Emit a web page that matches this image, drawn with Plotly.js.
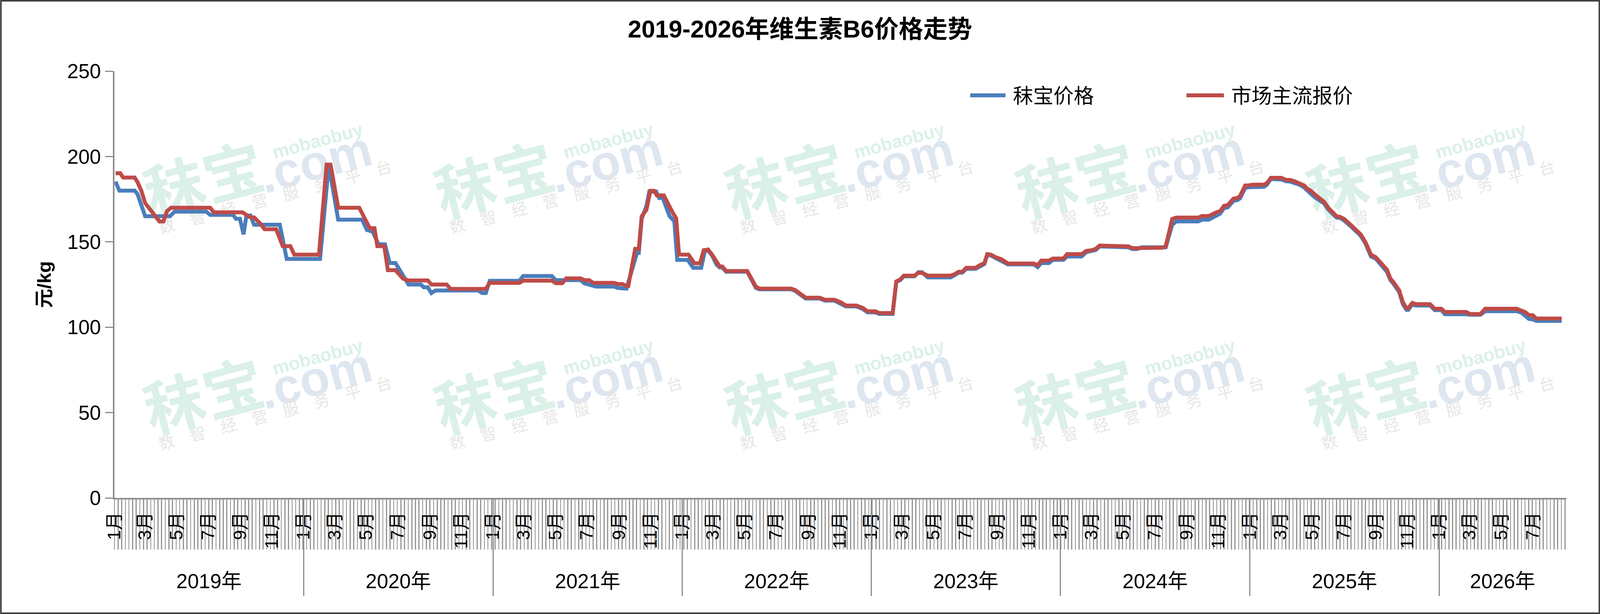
<!DOCTYPE html>
<html>
<head>
<meta charset="utf-8">
<script src="https://cdn.plot.ly/plotly-3.0.1.min.js"></script>
<style>
html,body{margin:0;padding:0;background:#fff;overflow:hidden;}
</style>
</head>
<body>
<div id="chart"></div>
<script>
// ---- data (x = weeks since 2019-01-01, y = 元/kg) ----
const seriesNames = ['秣宝价格', '市场主流报价'];
const bluePoints = [
[0.3,185.3],[1.35,180],[5.57,180],[6.36,178],[8.47,165],[15.3,165],[16.6,167.7],[25.3,167.7],[26.4,165.8],[32.7,165.8],[33.5,163.5],[34.6,163.5],[35.6,154.4],[36.4,165.4],[37.5,165.4],[38.5,160],[45.6,160],[47.5,140],[56.7,140],[59.1,195],[61.7,163],[68.3,163],[69.6,157],[71.2,156],[72.8,148.6],[74.6,148.6],[75.9,137.6],[77.5,137.6],[79.1,132],[81.1,125],[84.5,125],[85.3,123.4],[86.4,123.4],[87.4,120],[88.5,121.5],[100.3,121.5],[101.4,120],[102.4,120],[103.5,127.2],[111.7,127.2],[112.7,130],[120.6,130],[121.7,127.6],[128.5,127.6],[129.6,125.7],[131.2,125],[132.8,123.8],[137.8,123.8],[138.8,123],[141.2,122.6],[143.0,136],[144.1,143.6],[144.6,143.6],[145.4,163.5],[146.7,171],[147.5,179.5],[149.4,179.5],[150.2,175.7],[151.2,175.7],[153.1,165],[154.4,162],[155.2,139.4],[158.1,139.4],[159.6,134.8],[161.8,134.8],[162.8,144.4],
[163.7,145],[164.8,142],[166.1,136.5],[166.9,135],[167.6,135],[168.7,132.5],[174.5,132.5],[176.9,123],[177.9,122.2],[186.6,122.2],[187.7,121.3],[189.0,119],[190.6,116.8],[194.5,116.8],[195.9,115.6],[198.5,115.6],[200.3,114],[201.7,112.2],[204.6,112.2],[206.4,110.6],[207.7,108.7],[209.8,108.7],[210.9,107.8],[214.6,107.8],[215.6,126.5],[216.7,127.6],[217.7,129.8],[220.6,129.8],[221.7,132.2],[222.7,132.2],[224.3,129.2],[230.6,129.2],[231.7,130.5],[232.8,132],[233.8,132],[234.9,134.2],[237.5,134.2],[238.6,135.8],[239.9,137],[240.7,142.5],[241.7,142],[243.0,140.5],[244.6,139],
[246.4,136.8],[253.5,136.8],[254.6,135.2],[255.6,137.6],[257.7,137.6],[258.8,139.5],[261.7,139.5],[262.7,141.4],[266.7,141.4],[268.0,144],[269.6,144.5],[270.6,145.2],[271.7,147.3],[278.6,147.3],[279.6,146.8],[280.7,145.8],[282.0,145.8],[283.3,146.8],[289.9,146.8],[291.7,160],[292.8,162],[298.9,162],[299.9,163],[301.8,163],[303.9,165.8],[304.9,166.5],[306.0,169.8],[307.0,170.2],[308.6,174],[309.7,174.5],[310.4,175.5],[311.8,181.5],[312.8,182],[313.9,182.2],[317.0,182.2],[317.8,183.5],[318.9,186.8],[321.8,186.5],[323.1,185.5],[324.2,185.3],[325.5,184.5],[326.8,183.5],[328.1,181.8],
[329.0,179.8],[330.0,178],[331.1,176],[333.6,172.5],[334.7,169],[337.0,164.2],[338.0,164],[339.1,162.5],[341.1,158.8],[342.1,156.5],[343.7,153.5],[345.0,149],[346.5,141.5],[347.8,140.2],[350.1,134.2],[350.9,132.5],[351.9,127.5],[352.7,125.5],[354.3,120.5],[355.3,113.5],[356.3,110.2],[356.8,110.2],[357.9,113.2],[358.9,112.7],[362.8,112.7],[364.1,110],[365.9,110],[366.9,107.6],[372.8,107.6],[373.8,107.3],[376.7,107.3],[378.0,109.4],[386.7,109.4],[388.0,108.5],[389.0,106.7],[390.1,104.8],[391.1,104.6],[392.1,103.7],[399.1,103.7]
];
const redPoints = [
[0.3,190.2],[1.6,190.2],[2.4,187.7],[5.57,187.7],[6.36,185],[7.4,180],[8.47,172.7],[12.4,162],[13.5,162],[14.5,168],[15.6,170],[26.4,170],[27.4,167.3],[35.3,167.3],[37.5,164.3],[38.5,164.3],[40.1,161],[41.4,157.4],[44.6,157.4],[46.4,147.5],[48.5,147.5],[49.6,142.5],[56.4,142.5],[58.5,195.2],[59.6,195.2],[61.7,170],[67.5,170],[70.4,158],[71.7,158],[72.5,147.5],[74.4,147.5],[75.4,133.4],[77.5,133.4],[79.6,128.4],[81.1,127.4],[86.4,127.4],[87.4,125],[91.6,125],[92.7,122.4],[102.4,122.4],[103.5,126],[111.7,126],[112.7,127.3],[120.6,127.3],[121.7,125.8],[123.5,125.8],[124.6,128.6],[128.5,128.6],[129.6,127.6],[130.9,127.6],[132.0,126],[137.8,126],[138.8,125.3],[140.1,125.3],[141.2,124.1],[141.7,124.1],[143.6,145.9],[144.6,145.9],[145.4,165],[146.7,168.8],[147.8,179.9],[148.8,179.9],[149.6,177.2],[151.5,177.2],[153.9,167.3],[154.9,163.8],[155.7,142.5],[158.3,142.5],[159.9,137.5],[161.5,137.5],[162.5,145.1],
[163.7,145.5],[164.8,142.5],[166.1,137.5],[166.9,135.6],[167.6,135.6],[168.7,132.9],[174.5,132.9],[176.9,123.7],[177.9,122.6],[186.6,122.6],[187.7,121.8],[189.0,119.6],[190.6,117.3],[194.5,117.3],[195.9,116.1],[198.5,116.1],[200.3,114.6],[201.7,112.7],[204.6,112.7],[206.4,111.2],[207.7,109.3],[209.8,109.3],[210.9,108.3],[214.6,108.3],[215.6,126.8],[216.7,128],[217.7,130.2],[220.6,130.2],[221.7,131.8],[222.7,131.8],[224.3,130.2],[230.6,130.2],[231.7,131],[232.8,132.5],[233.8,132.5],[234.9,134.8],[237.5,134.8],[238.6,136.3],[239.9,137.5],[240.7,142.8],[241.7,142.5],[243.0,141],[244.6,139.8],
[246.4,137.3],[253.5,137.3],[254.6,136.3],[255.6,139],[257.7,139],[258.8,140.2],[261.7,140.2],[262.7,142.8],[266.7,142.8],[268.0,144.7],[269.6,145.1],[270.6,145.9],[271.7,147.8],[278.6,147.8],[279.6,147.3],[280.7,146.3],[282.0,146.3],[283.3,146.6],[289.1,146.6],[289.9,147.4],[291.7,163.4],[292.8,164.2],[298.9,164.2],[299.9,165.1],[301.8,165.1],[303.9,167.3],[304.9,168],[306.0,171.1],[307.0,171.5],[308.6,175.3],[309.7,175.7],[310.4,176.8],[311.8,183],[312.8,183.1],[313.9,183.5],[317.0,183.5],[317.8,184.4],[318.9,187.5],[321.8,187.5],[323.1,186.3],[324.2,186.3],[325.5,185.4],[326.8,184.4],[328.1,183],
[329.0,181],[330.0,179.8],[331.1,177.6],[333.6,173.4],[334.7,170],[337.0,165],[338.0,164.6],[339.1,163.4],[341.1,159.6],[342.1,157.3],[343.7,154.3],[345.0,149.7],[346.5,142.5],[347.8,141],[350.1,135.2],[350.9,133.7],[351.9,128.3],[352.7,126.4],[354.3,121.5],[355.3,114.6],[356.3,111.2],[356.8,111.2],[357.9,114.2],[358.9,113.5],[362.8,113.5],[364.1,110.8],[365.9,110.8],[366.9,108.9],[372.8,108.9],[373.8,107.7],[376.7,107.7],[378.0,110.8],[386.7,110.8],[388.0,110],[389.0,108.9],[390.1,107],[391.1,107],[392.1,105.1],[399.1,105.1]
];
const years = [2019, 2020, 2021, 2022, 2023, 2024, 2025, 2026];
const yearLabels = years.map(y => y + '年');
const labelMonths = [1, 3, 5, 7, 9, 11];
const monthLabel = m => m + '月';
const lastMonth2026 = 7;
const titleText = '2019-2026年维生素B6价格走势';
const yTitle = '元/kg';
const watermarkParts = ['秣宝', '.com', 'mobaobuy', '数　智　经　营　服　务　平　台'];

// ---- geometry (designed on a 4270x1571 canvas, fitted to the real viewport) ----
const W = window.innerWidth || 4270, H = window.innerHeight || 1571;
const sx = W / 4270, sy = H / 1571;
const fs = v => Math.round(v * Math.min(1, (sx + sy) / 2) * 10) / 10;
const div = document.getElementById('chart');
div.style.width = W + 'px'; div.style.height = H + 'px';
const L = 305 * sx, R = 90 * sx, T = 182 * sy, B = 46 * sy;
const PW = W - L - R, PH = H - T - B;
const xEnd = 400.4;
const px = X => (X * sx - L) / PW;          // design pixel -> paper x
const py = Y => 1 - (Y * sy - T) / PH;      // design pixel -> paper y
const DAY = 864e5, t0 = Date.UTC(2019, 0, 1);
const weekOf = (y, m) => (Date.UTC(y, m - 1, 1) - t0) / (7 * DAY);

const monthVals = [], monthText = [];
years.forEach(y => labelMonths.forEach(m => {
  if (y === 2026 && m > lastMonth2026) return;
  monthVals.push(weekOf(y, m)); monthText.push(monthLabel(m));
}));
const yearBounds = years.map(y => weekOf(y, 1)).concat([xEnd - 0.05]);
const yearMids = years.map((y, i) => (yearBounds[i] + yearBounds[i + 1]) / 2);

const BLUE = '#4a7ebb', RED = '#be4b48', GRAY = '#8c8c8c';
const FONT = 'Liberation Sans, Arial, "Noto Sans CJK SC", sans-serif';
const CJK = '"Noto Sans CJK SC", "Liberation Sans", sans-serif';

const traces = [
  {x: bluePoints.map(p => p[0]), y: bluePoints.map(p => p[1]), name: seriesNames[0],
   type: 'scatter', mode: 'lines', line: {color: BLUE, width: 10}, showlegend: false},
  {x: redPoints.map(p => p[0]), y: redPoints.map(p => p[1]), name: seriesNames[1],
   type: 'scatter', mode: 'lines', line: {color: RED, width: 10}, showlegend: false},
  {x: [], y: [], xaxis: 'x2', yaxis: 'y', showlegend: false, hoverinfo: 'skip'},
  {x: [], y: [], xaxis: 'x3', yaxis: 'y', showlegend: false, hoverinfo: 'skip'},
  {x: [], y: [], xaxis: 'x4', yaxis: 'y', showlegend: false, hoverinfo: 'skip'}
];

const shapes = [];
const annotations = [];

// watermark tiles (below traces)
for (let r = 0; r < 2; r++) {
  for (let c = 0; c < 5; c++) {
    const dx = 776 * c, dy = 553 * r;
    const parts = [
      {t: watermarkParts[0], X: 548, Y: 476, s: 158, col: '#daf0e8', w: 'bold', f: CJK},
      {t: watermarkParts[1], X: 838, Y: 404, s: 128, col: '#dee6f0', w: 'bold', f: FONT},
      {t: watermarkParts[2], X: 846, Y: 356, s: 48, col: '#dbf1e9', w: 'bold', f: FONT},
      {t: watermarkParts[3], X: 735, Y: 508, s: 42, col: '#e6e6e6', w: 'normal', f: CJK}
    ];
    parts.forEach(p => {
      const cx = px(p.X + dx), cy = py(p.Y + dy);
      shapes.push({type: 'rect', xref: 'paper', yref: 'paper', layer: 'below',
        x0: cx - 0.0005, x1: cx + 0.0005, y0: cy - 0.0005, y1: cy + 0.0005,
        line: {width: 0}, fillcolor: 'rgba(0,0,0,0)',
        label: {text: p.t, textangle: -15, textposition: 'middle center',
                font: {family: p.f, size: fs(p.s), color: p.col, weight: p.w}}});
    });
  }
}

// legend (custom so the key lines match the long Excel key)
const legendItems = [
  {name: seriesNames[0], color: BLUE, x0: 2589, x1: 2683, tx: 2701},
  {name: seriesNames[1], color: RED, x0: 3166, x1: 3266, tx: 3283}
];
legendItems.forEach(it => {
  shapes.push({type: 'line', xref: 'paper', yref: 'paper', layer: 'above',
    x0: px(it.x0), x1: px(it.x1), y0: py(244), y1: py(244),
    line: {color: it.color, width: 10}});
  annotations.push({xref: 'paper', yref: 'paper', x: px(it.tx), y: py(246),
    xanchor: 'left', yanchor: 'middle', showarrow: false, text: it.name,
    font: {family: FONT, size: fs(53), color: '#000'}});
});

// outer border
shapes.push({type: 'rect', xref: 'paper', yref: 'paper', layer: 'above',
  x0: px(2), x1: px(4268), y0: py(1569), y1: py(2),
  line: {color: '#404040', width: 4}, fillcolor: 'rgba(0,0,0,0)'});

const xRange = [0, xEnd];
const layout = {
  width: W, height: H,
  margin: {l: L, r: R, t: T, b: B, pad: 0},
  paper_bgcolor: '#ffffff', plot_bgcolor: 'rgba(0,0,0,0)',
  font: {family: FONT, color: '#000'},
  showlegend: false,
  hovermode: false,
  title: {text: titleText, x: 0.5, xref: 'container', y: 1 - 74 / 1571, yref: 'container',
          xanchor: 'center', yanchor: 'middle',
          font: {family: FONT, size: fs(64), color: '#000', weight: 'bold'}},
  yaxis: {
    domain: [(1571 - 46 - 1274) / (1571 - 182 - 46), 1], range: [0, 250], tick0: 0, dtick: 50,
    showline: true, linecolor: GRAY, linewidth: 4,
    ticks: 'outside', ticklen: 21 * sx, tickwidth: 3, tickcolor: GRAY,
    showgrid: false, zeroline: false,
    tickfont: {family: FONT, size: fs(53), color: '#000'}, ticklabelstandoff: 12 * sx,
    title: {text: yTitle, standoff: 28 * sx, font: {family: FONT, size: fs(50), color: '#000', weight: 'bold'}}
  },
  xaxis: {
    range: xRange, anchor: 'y', showline: true, linecolor: GRAY, linewidth: 4,
    tickmode: 'linear', tick0: 0, dtick: 1, ticks: 'outside', ticklen: 128 * sy, tickwidth: 2.6, tickcolor: '#939393',
    showticklabels: false, showgrid: false, zeroline: false
  },
  xaxis2: {
    range: xRange, overlaying: 'x', anchor: 'y', side: 'bottom',
    tickmode: 'array', tickvals: monthVals, ticktext: monthText, ticks: '',
    tickangle: -90, ticklabelshift: -20 * sx, ticklabelstandoff: 26 * sy,
    tickfont: {family: FONT, size: fs(47), color: '#000'},
    showline: false, showgrid: false, zeroline: false
  },
  xaxis3: {
    range: xRange, overlaying: 'x', anchor: 'free', position: 0, side: 'bottom',
    tickmode: 'array', tickvals: yearBounds, ticks: 'inside', ticklen: 251 * sy, tickwidth: 3, tickcolor: GRAY,
    showticklabels: false, showline: false, showgrid: false, zeroline: false
  },
  xaxis4: {
    range: xRange, overlaying: 'x', anchor: 'free', position: 0, side: 'top',
    tickmode: 'array', tickvals: yearMids, ticktext: yearLabels, ticks: '',
    tickangle: 0, ticklabelstandoff: 10 * sy,
    tickfont: {family: FONT, size: fs(53), color: '#000'},
    showline: false, showgrid: false, zeroline: false
  },
  shapes: shapes,
  annotations: annotations
};

Plotly.newPlot('chart', traces, layout, {staticPlot: true, displayModeBar: false});
</script>
</body>
</html>
